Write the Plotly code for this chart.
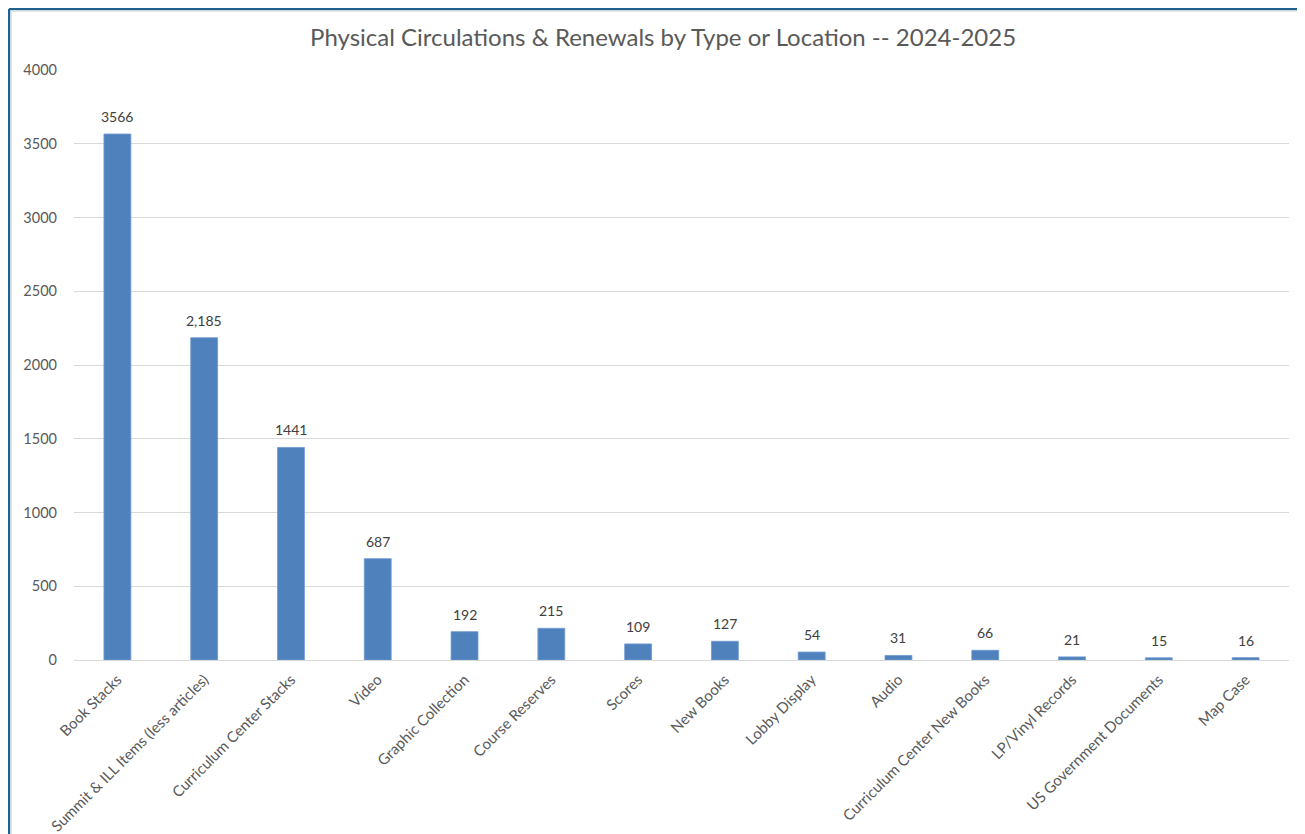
import plotly.graph_objects as go

categories = ["Book Stacks", "Summit & ILL Items (less articles)", "Curriculum Center Stacks",
              "Video", "Graphic Collection", "Course Reserves", "Scores", "New Books",
              "Lobby Display", "Audio", "Curriculum Center New Books", "LP/Vinyl Records",
              "US Government Documents", "Map Case"]
values = [3566, 2185, 1441, 687, 192, 215, 109, 127, 54, 31, 66, 21, 15, 16]
labels = ["3566", "2,185", "1441", "687", "192", "215", "109", "127", "54", "31", "66", "21", "15", "16"]
title = "Physical Circulations & Renewals by Type or Location -- 2024-2025"
y_ticks = [0, 500, 1000, 1500, 2000, 2500, 3000, 3500, 4000]

FONT = "Lato"

fig = go.Figure(go.Bar(
    x=categories, y=values,
    marker=dict(color="#4f81bd", line=dict(color="#6f9ad0", width=0.8)),
))

for c, v, t in zip(categories, values, labels):
    fig.add_annotation(x=c, y=v, text=t, showarrow=False, yanchor="bottom", yshift=7,
                       font=dict(family=FONT, size=14, color="#404040"))

fig.update_layout(
    width=1305, height=834,
    paper_bgcolor="white", plot_bgcolor="white",
    margin=dict(l=66, r=24, t=62, b=182, autoexpand=False),
    bargap=0.69,
    title=dict(text=title, x=0.502, xanchor="center", y=0.965, yanchor="middle",
               font=dict(family=FONT, size=24, color="#595959")),
    xaxis=dict(tickangle=-45, tickfont=dict(family=FONT, size=15, color="#595959"),
               showline=True, linecolor="#d9d9d9", linewidth=1, ticks="", showgrid=False,
               ticklabelstandoff=4),
    yaxis=dict(range=[0, 4000], tickvals=y_ticks, tickfont=dict(family=FONT, size=14.5, color="#595959"),
               gridcolor="#d9d9d9", gridwidth=1, zeroline=False, ticks="", ticklen=0,
               ticklabelstandoff=16),
    showlegend=False,
    shapes=[
        dict(type="line", xref="paper", yref="paper", x0=-0.0535, x1=1.03, y0=1.1034, y1=1.1034,
             line=dict(color="#1f628e", width=2.5)),
        dict(type="line", xref="paper", yref="paper", x0=-0.0535, x1=-0.0535, y0=-0.32, y1=1.1034,
             line=dict(color="#1f628e", width=2.5)),
        dict(type="line", xref="paper", yref="paper", x0=-0.0515, x1=1.03, y0=1.0995, y1=1.0995,
             line=dict(color="#e0e0e0", width=1)),
        dict(type="line", xref="paper", yref="paper", x0=-0.0515, x1=-0.0515, y0=-0.32, y1=1.0995,
             line=dict(color="#e0e0e0", width=1)),
    ],
)

fig.write_html("out.html")
